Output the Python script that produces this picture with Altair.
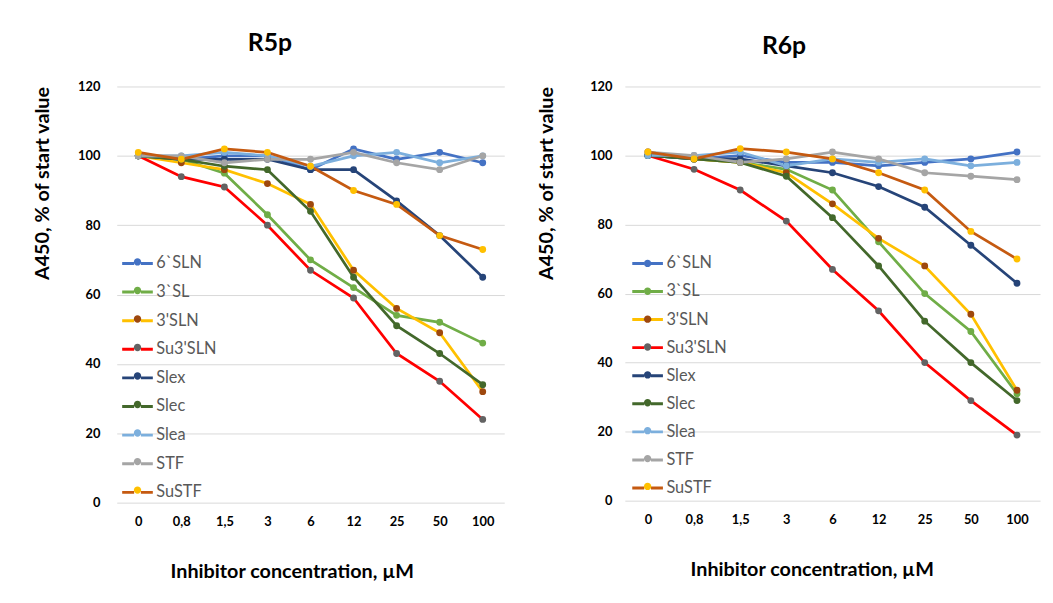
import altair as alt
import pandas as pd

cats = ["0", "0,8", "1,5", "3", "6", "12", "25", "50", "100"]
series = ["6`SLN", "3`SL", "3'SLN", "Su3'SLN", "Slex", "Slec", "Slea", "STF", "SuSTF"]
line_colors = ["#4472C4", "#70AD47", "#FFC000", "#FF0000", "#264478", "#43682B", "#7CAFDD", "#A5A5A5", "#C55A11"]
marker_colors = ["#4472C4", "#70AD47", "#9E480E", "#636363", "#264478", "#43682B", "#7CAFDD", "#A5A5A5", "#FFC000"]

r5p_6sln = [100, 99, 100, 100, 96, 102, 99, 101, 98]
r5p_3sl = [100, 99, 95, 83, 70, 62, 54, 52, 46]
r5p_3sln = [100, 98, 96, 92, 86, 67, 56, 49, 32]
r5p_su3sln = [100, 94, 91, 80, 67, 59, 43, 35, 24]
r5p_slex = [100, 99, 99, 99, 96, 96, 87, 77, 65]
r5p_slec = [100, 99, 97, 96, 84, 65, 51, 43, 34]
r5p_slea = [100, 100, 101, 100, 97, 100, 101, 98, 100]
r5p_stf = [100, 100, 98, 99, 99, 101, 98, 96, 100]
r5p_sustf = [101, 99, 102, 101, 97, 90, 86, 77, 73]

r6p_6sln = [100, 99, 100, 98, 98, 97, 98, 99, 101]
r6p_3sl = [100, 99, 98, 96, 90, 75, 60, 49, 31]
r6p_3sln = [101, 99, 98, 95, 86, 76, 68, 54, 32]
r6p_su3sln = [100, 96, 90, 81, 67, 55, 40, 29, 19]
r6p_slex = [100, 99, 99, 97, 95, 91, 85, 74, 63]
r6p_slec = [100, 99, 98, 94, 82, 68, 52, 40, 29]
r6p_slea = [100, 100, 101, 97, 99, 98, 99, 97, 98]
r6p_stf = [101, 100, 98, 99, 101, 99, 95, 94, 93]
r6p_sustf = [101, 99, 102, 101, 99, 95, 90, 78, 70]

r5p = [r5p_6sln, r5p_3sl, r5p_3sln, r5p_su3sln, r5p_slex, r5p_slec, r5p_slea, r5p_stf, r5p_sustf]
r6p = [r6p_6sln, r6p_3sl, r6p_3sln, r6p_su3sln, r6p_slex, r6p_slec, r6p_slea, r6p_stf, r6p_sustf]

FONT = "Lato"
marker_keys = [s + " m" for s in series]
LINE_SYM = "M-1,0H-0.22M0.22,0H1"
DOT_SYM = "M-0.24,0A0.24,0.24,0,1,1,0.24,0A0.24,0.24,0,1,1,-0.24,0Z"


def make_df(values):
    rows = []
    for s, k, vals in zip(series, marker_keys, values):
        for i, (c, v) in enumerate(zip(cats, vals)):
            rows.append({"cat": c, "series": s, "key": k, "value": v, "idx": i})
    return pd.DataFrame(rows)


def panel(values, title, width, height, lx, ly, rp, dly, drp, tdx, toffset, ytp, ylp, xtitle_x):
    df = make_df(values)
    base = alt.Chart(df)
    x = alt.X("cat:N", sort=cats, scale=alt.Scale(type="point", padding=0.5),
              axis=alt.Axis(title="Inhibitor concentration, µM", labelAngle=0, ticks=False,
                            domain=False, grid=False, labelPadding=13, titlePadding=34,
                            titleX=xtitle_x))
    y = alt.Y("value:Q", scale=alt.Scale(domain=[0, 120], nice=False),
              axis=alt.Axis(title="A450, % of start value", values=[0, 20, 40, 60, 80, 100, 120],
                            ticks=False, domain=False, grid=True, labelPadding=ylp,
                            titlePadding=ytp, titleAnchor="end"))
    common_leg = dict(orient="none", legendX=lx, title=None, symbolSize=961,
                      symbolStrokeWidth=3, labelFont=FONT, labelFontSize=16.5,
                      labelColor="#595959", labelOffset=2, padding=0)
    lines = base.mark_line(strokeWidth=2.75).encode(
        x=x, y=y,
        stroke=alt.Stroke("series:N", scale=alt.Scale(domain=series, range=line_colors),
                          legend=alt.Legend(symbolType=LINE_SYM, symbolFillColor="transparent",
                                            legendY=ly, rowPadding=rp, **common_leg)),
        order="idx:O",
    )
    dots = base.mark_circle(size=48, opacity=1).encode(
        x=x, y=y,
        fill=alt.Fill("key:N", scale=alt.Scale(domain=marker_keys, range=marker_colors),
                      legend=alt.Legend(symbolType=DOT_SYM, symbolStrokeColor="transparent",
                                        symbolOpacity=1, labelExpr="''", legendY=dly,
                                        rowPadding=drp, **common_leg)),
    )
    return alt.layer(lines, dots).properties(
        width=width, height=height,
        title=alt.TitleParams(title, fontSize=25, font=FONT, fontWeight="bold", color="#000000",
                              anchor="middle", dx=tdx, offset=toffset),
    )


left = panel(r5p, "R5p", 392, 421, 4, 162, 2.95, 160.5, 1.85, -41, 25, 25, 17, 177)
right = panel(r6p, "R6p", 420, 419, 6, 162, 2.4, 162, 1.2, -49, 22, 34, 13, 189)

chart = alt.hconcat(left, right, spacing=32).resolve_scale(
    stroke="independent", fill="independent"
).configure(
    padding={"left": 25, "top": 20, "right": 5, "bottom": 5},
    background="white",
).configure_axis(
    labelFont=FONT, labelFontSize=13, labelFontWeight="bold", labelColor="#000000",
    titleFont=FONT, titleFontSize=20, titleFontWeight="bold", titleColor="#000000",
    gridColor="#D9D9D9", gridWidth=1,
).configure_view(stroke=None)

chart.save("out.html", embed_options={"renderer": "svg", "actions": False})
